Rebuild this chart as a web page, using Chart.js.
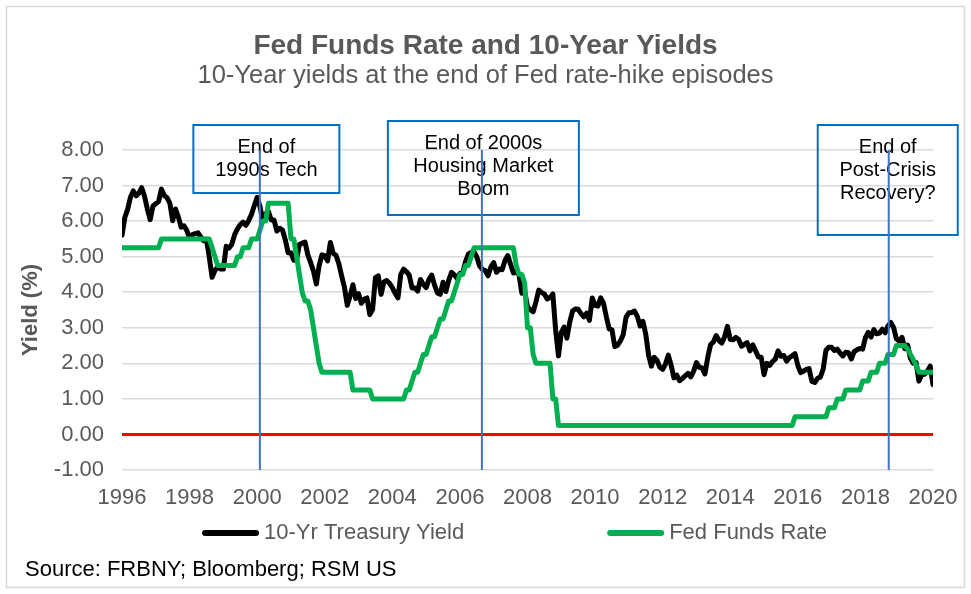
<!DOCTYPE html>
<html>
<head>
<meta charset="utf-8">
<title>Fed Funds Rate and 10-Year Yields</title>
<script src="https://cdn.jsdelivr.net/npm/chart.js@4.4.1/dist/chart.umd.min.js"></script>
<style>
  body { margin: 0; background: #fff; }
  canvas { display: block; }
</style>
</head>
<body>
<canvas id="chart" width="971" height="594"></canvas>
<script>
// month-end values, one row per year, starting Jan 1996
const startYear = 1996;

const treasuryYield = [
  5.60, 6.10, 6.33, 6.67, 6.85, 6.71, 6.79, 6.94, 6.70, 6.34, 6.04, 6.42,
  6.49, 6.55, 6.90, 6.72, 6.66, 6.50, 6.01, 6.34, 6.12, 5.83, 5.87, 5.74,
  5.51, 5.62, 5.65, 5.67, 5.55, 5.45, 5.49, 4.98, 4.42, 4.61, 4.71, 4.65,
  4.65, 5.29, 5.24, 5.35, 5.62, 5.78, 5.90, 5.97, 5.88, 6.02, 6.19, 6.44,
  6.67, 6.41, 6.00, 6.21, 6.27, 6.03, 6.03, 5.72, 5.80, 5.75, 5.47, 5.11,
  5.11, 4.90, 4.92, 5.34, 5.38, 5.41, 5.05, 4.83, 4.59, 4.23, 4.75, 5.05,
  5.03, 4.88, 5.40, 5.09, 5.04, 4.80, 4.46, 4.14, 3.63, 3.89, 4.21, 3.82,
  3.96, 3.69, 3.80, 3.84, 3.37, 3.52, 4.41, 4.46, 3.94, 4.29, 4.33, 4.25,
  4.13, 3.97, 3.84, 4.50, 4.65, 4.58, 4.48, 4.12, 4.12, 4.03, 4.36, 4.22,
  4.13, 4.36, 4.48, 4.20, 3.98, 3.94, 4.28, 4.02, 4.33, 4.56, 4.49, 4.39,
  4.53, 4.55, 4.86, 5.07, 5.12, 5.14, 4.99, 4.74, 4.64, 4.61, 4.46, 4.71,
  4.83, 4.56, 4.65, 4.63, 4.89, 5.03, 4.78, 4.54, 4.59, 4.48, 3.97, 4.03,
  3.59, 3.51, 3.45, 3.73, 4.06, 3.99, 3.95, 3.81, 3.85, 3.95, 2.93, 2.21,
  2.87, 3.02, 2.71, 3.16, 3.47, 3.53, 3.52, 3.40, 3.31, 3.41, 3.21, 3.84,
  3.63, 3.61, 3.84, 3.69, 3.31, 2.97, 2.94, 2.47, 2.51, 2.63, 2.81, 3.30,
  3.42, 3.43, 3.47, 3.32, 3.05, 3.18, 2.82, 2.23, 1.92, 2.17, 2.08, 1.89,
  1.83, 1.98, 2.23, 1.95, 1.59, 1.67, 1.51, 1.57, 1.65, 1.72, 1.62, 1.78,
  2.02, 1.89, 1.87, 1.70, 2.16, 2.52, 2.60, 2.78, 2.64, 2.57, 2.75, 3.04,
  2.67, 2.66, 2.73, 2.67, 2.48, 2.53, 2.58, 2.35, 2.52, 2.35, 2.18, 2.17,
  1.68, 2.00, 1.94, 2.05, 2.12, 2.35, 2.20, 2.22, 2.06, 2.16, 2.21, 2.27,
  1.94, 1.74, 1.78, 1.83, 1.85, 1.49, 1.46, 1.58, 1.61, 1.84, 2.37, 2.45,
  2.45, 2.36, 2.40, 2.29, 2.21, 2.31, 2.30, 2.12, 2.33, 2.38, 2.42, 2.40,
  2.72, 2.87, 2.74, 2.95, 2.83, 2.85, 2.96, 2.86, 3.05, 3.15, 3.01, 2.69,
  2.63, 2.73, 2.41, 2.51, 2.14, 2.00, 2.02, 1.50, 1.68, 1.69, 1.78, 1.92,
  1.40
];

const fedFundsRate = [
  5.25, 5.25, 5.25, 5.25, 5.25, 5.25, 5.25, 5.25, 5.25, 5.25, 5.25, 5.25,
  5.25, 5.25, 5.50, 5.50, 5.50, 5.50, 5.50, 5.50, 5.50, 5.50, 5.50, 5.50,
  5.50, 5.50, 5.50, 5.50, 5.50, 5.50, 5.50, 5.50, 5.25, 5.00, 4.75, 4.75,
  4.75, 4.75, 4.75, 4.75, 4.75, 5.00, 5.00, 5.25, 5.25, 5.25, 5.50, 5.50,
  5.50, 5.75, 6.00, 6.00, 6.50, 6.50, 6.50, 6.50, 6.50, 6.50, 6.50, 6.50,
  5.50, 5.50, 5.00, 4.50, 4.00, 3.75, 3.75, 3.50, 3.00, 2.50, 2.00, 1.75,
  1.75, 1.75, 1.75, 1.75, 1.75, 1.75, 1.75, 1.75, 1.75, 1.75, 1.25, 1.25,
  1.25, 1.25, 1.25, 1.25, 1.25, 1.00, 1.00, 1.00, 1.00, 1.00, 1.00, 1.00,
  1.00, 1.00, 1.00, 1.00, 1.00, 1.25, 1.25, 1.50, 1.75, 1.75, 2.00, 2.25,
  2.25, 2.50, 2.75, 2.75, 3.00, 3.25, 3.25, 3.50, 3.75, 3.75, 4.00, 4.25,
  4.50, 4.50, 4.75, 4.75, 5.00, 5.25, 5.25, 5.25, 5.25, 5.25, 5.25, 5.25,
  5.25, 5.25, 5.25, 5.25, 5.25, 5.25, 5.25, 5.25, 4.75, 4.50, 4.50, 4.25,
  3.00, 3.00, 2.25, 2.00, 2.00, 2.00, 2.00, 2.00, 2.00, 1.00, 1.00, 0.25,
  0.25, 0.25, 0.25, 0.25, 0.25, 0.25, 0.25, 0.25, 0.25, 0.25, 0.25, 0.25,
  0.25, 0.25, 0.25, 0.25, 0.25, 0.25, 0.25, 0.25, 0.25, 0.25, 0.25, 0.25,
  0.25, 0.25, 0.25, 0.25, 0.25, 0.25, 0.25, 0.25, 0.25, 0.25, 0.25, 0.25,
  0.25, 0.25, 0.25, 0.25, 0.25, 0.25, 0.25, 0.25, 0.25, 0.25, 0.25, 0.25,
  0.25, 0.25, 0.25, 0.25, 0.25, 0.25, 0.25, 0.25, 0.25, 0.25, 0.25, 0.25,
  0.25, 0.25, 0.25, 0.25, 0.25, 0.25, 0.25, 0.25, 0.25, 0.25, 0.25, 0.25,
  0.25, 0.25, 0.25, 0.25, 0.25, 0.25, 0.25, 0.25, 0.25, 0.25, 0.25, 0.50,
  0.50, 0.50, 0.50, 0.50, 0.50, 0.50, 0.50, 0.50, 0.50, 0.50, 0.50, 0.75,
  0.75, 0.75, 1.00, 1.00, 1.00, 1.25, 1.25, 1.25, 1.25, 1.25, 1.25, 1.50,
  1.50, 1.50, 1.75, 1.75, 1.75, 2.00, 2.00, 2.00, 2.25, 2.25, 2.25, 2.50,
  2.50, 2.50, 2.50, 2.40, 2.25, 2.10, 1.95, 1.75, 1.75, 1.75, 1.75, 1.75,
  1.75
];

const xTicks = [1996, 1998, 2000, 2002, 2004, 2006, 2008, 2010, 2012, 2014, 2016, 2018, 2020];
const yTicks = [-1, 0, 1, 2, 3, 4, 5, 6, 7, 8];

const chartTitle = "Fed Funds Rate and 10-Year Yields";
const chartSubtitle = "10-Year yields at the end of Fed rate-hike episodes";
const sourceNote = "Source: FRBNY; Bloomberg; RSM US";

// ends of the three rate-hike episodes (decimal years)
const episodeEnds = [2000.08, 2006.65, 2018.69];
const episodeNotes = [
  ["End of", "1990s Tech"],
  ["End of 2000s", "Housing Market", "Boom"],
  ["End of", "Post-Crisis", "Recovery?"]
];

// note box placement, pixels
const noteBoxes = [
  { dx: 6.5, top: 125, width: 146, height: 68 },
  { dx: 1.5, top: 121, width: 191, height: 94 },
  { dx: -1, top: 125, width: 140, height: 110 }
];

const FONT = '"Liberation Sans", Arial, sans-serif';
const GREY_TEXT = "#595959";
Chart.defaults.font.family = FONT;

const toPoints = (arr) => arr.map((v, i) => ({ x: startYear + i / 12, y: v }));

const decorations = {
  id: "decorations",
  beforeDraw(chart) {
    const ctx = chart.ctx;
    ctx.save();
    ctx.fillStyle = "#fff";
    ctx.fillRect(0, 0, chart.width, chart.height);
    ctx.strokeStyle = "#d9d9d9";
    ctx.lineWidth = 1.5;
    ctx.strokeRect(6.5, 6.5, chart.width - 13, chart.height - 13);
    // title block, centred on the canvas
    ctx.fillStyle = GREY_TEXT;
    ctx.textAlign = "center";
    ctx.textBaseline = "middle";
    ctx.font = "bold 28px " + FONT;
    ctx.fillText(chartTitle, chart.width / 2, 46);
    ctx.font = "25.5px " + FONT;
    ctx.fillText(chartSubtitle, chart.width / 2, 76);
    ctx.restore();
  },
  afterDatasetsDraw(chart) {
    const { ctx, chartArea, scales } = chart;
    ctx.save();
    episodeEnds.forEach((d, i) => {
      const px = scales.x.getPixelForValue(d);
      const box = noteBoxes[i];
      const cx = px + box.dx;
      ctx.strokeStyle = "#0070c0";
      ctx.lineWidth = 2;
      ctx.strokeRect(cx - box.width / 2, box.top, box.width, box.height);
      ctx.fillStyle = "#000";
      ctx.font = "20px " + FONT;
      ctx.textAlign = "center";
      ctx.textBaseline = "middle";
      episodeNotes[i].forEach((t, j) => ctx.fillText(t, cx, box.top + 22 + j * 23));
      ctx.strokeStyle = "#4472c4";
      ctx.lineWidth = 2;
      ctx.beginPath();
      ctx.moveTo(px, chartArea.top);
      ctx.lineTo(px, chartArea.bottom);
      ctx.stroke();
    });
    ctx.restore();
  },
  afterDraw(chart) {
    const { ctx, chartArea } = chart;
    ctx.save();
    // legend
    ctx.font = "22px " + FONT;
    ctx.textBaseline = "middle";
    ctx.textAlign = "left";
    const sampleW = 57, textGap = 5, itemGap = 143, legendY = 533;
    const items = chart.data.datasets.map((ds) => ({ label: ds.label, color: ds.borderColor }));
    const widths = items.map((it) => sampleW + textGap + ctx.measureText(it.label).width);
    const total = widths.reduce((a, b) => a + b, 0) + itemGap * (items.length - 1);
    let lx = (chartArea.left + chartArea.right) / 2 - 13 - total / 2;
    items.forEach((it, i) => {
      ctx.strokeStyle = it.color;
      ctx.lineWidth = 6;
      ctx.lineCap = "round";
      ctx.beginPath();
      ctx.moveTo(lx + 3, legendY);
      ctx.lineTo(lx + sampleW - 3, legendY);
      ctx.stroke();
      ctx.fillStyle = GREY_TEXT;
      ctx.fillText(it.label, lx + sampleW + textGap, legendY);
      lx += widths[i] + itemGap;
    });
    // source
    ctx.fillStyle = "#000";
    ctx.fillText(sourceNote, 25, 570);
    ctx.restore();
  }
};

new Chart("chart", {
  type: "line",
  data: {
    datasets: [{
      label: "10-Yr Treasury Yield",
      data: toPoints(treasuryYield),
      borderColor: "#000000",
      borderWidth: 5,
      order: 1
    }, {
      label: "Fed Funds Rate",
      data: toPoints(fedFundsRate),
      borderColor: "#00b050",
      borderWidth: 5,
      order: 0
    }]
  },
  options: {
    responsive: false,
    animation: false,
    devicePixelRatio: 1,
    elements: {
      point: { radius: 0 },
      line: { tension: 0, borderJoinStyle: "round", borderCapStyle: "round" }
    },
    layout: { padding: { left: 0, right: 38, top: 150, bottom: 0 } },
    plugins: {
      legend: { display: false },
      tooltip: { enabled: false }
    },
    scales: {
      x: {
        type: "linear",
        min: xTicks[0],
        max: xTicks[xTicks.length - 1],
        afterBuildTicks: (s) => { s.ticks = xTicks.map((v) => ({ value: v })); },
        afterFit: (s) => { s.height = 124; },
        grid: { display: false },
        border: { display: false },
        ticks: {
          color: GREY_TEXT,
          font: { size: 22 },
          padding: 7,
          maxRotation: 0,
          callback: (v) => String(v)
        }
      },
      y: {
        min: yTicks[0],
        max: yTicks[yTicks.length - 1],
        afterBuildTicks: (s) => { s.ticks = yTicks.map((v) => ({ value: v })); },
        afterFit: (s) => { s.width = 122; },
        border: { display: false },
        grid: {
          drawTicks: false,
          color: (c) => (c.tick && c.tick.value === 0 ? "#ff0000" : "#d9d9d9"),
          lineWidth: (c) => (c.tick && c.tick.value === 0 ? 3 : 1.5)
        },
        ticks: {
          color: GREY_TEXT,
          font: { size: 22 },
          padding: 18,
          callback: (v) => v.toFixed(2)
        },
        title: {
          display: true,
          text: "Yield (%)",
          color: GREY_TEXT,
          font: { size: 22, weight: "bold" },
          padding: { top: 18, bottom: 0 }
        }
      }
    }
  },
  plugins: [decorations]
});
</script>
</body>
</html>
